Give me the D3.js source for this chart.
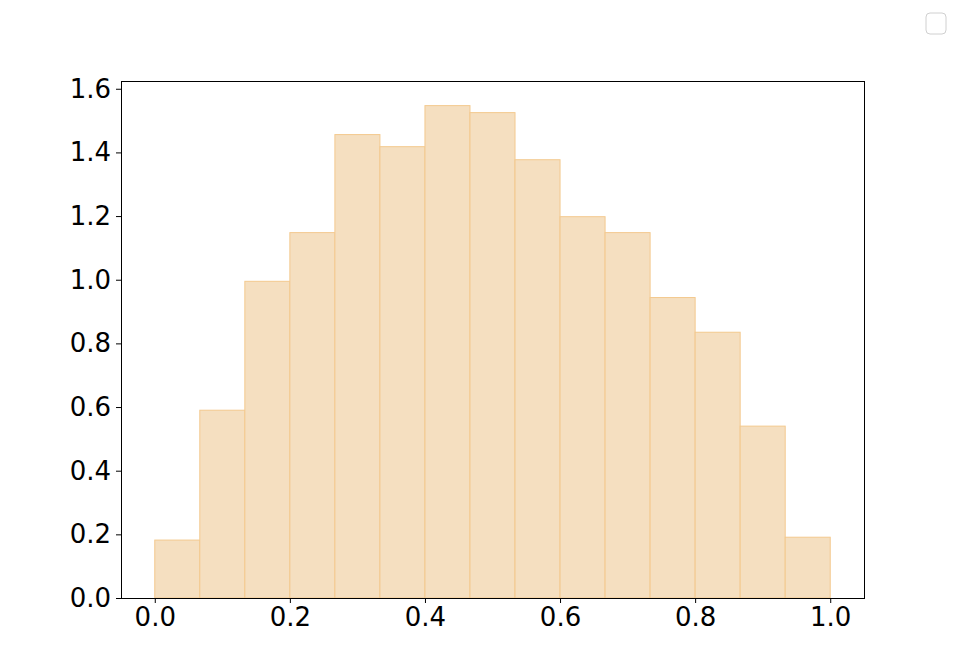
<!DOCTYPE html>
<html>
<head>
<meta charset="utf-8">
<script src="https://cdn.jsdelivr.net/npm/d3@7"></script>
<style>
  body { margin: 0; background: #fff; }
  text { font-family: "DejaVu Sans", sans-serif; }
</style>
</head>
<body>
<div id="chart"></div>
<script>
// histogram bins (edges) and density values
const binEdges = d3.range(16).map(i => i / 15);
const densities = [0.182, 0.590, 0.995, 1.148, 1.456, 1.418, 1.547, 1.525,
                   1.377, 1.198, 1.148, 0.944, 0.835, 0.540, 0.191];
const xTicks = [0.0, 0.2, 0.4, 0.6, 0.8, 1.0];
const yTicks = [0.0, 0.2, 0.4, 0.6, 0.8, 1.0, 1.2, 1.4, 1.6];

const w = 960, h = 672;
const padLeft = 121, padRight = 864, padTop = 81, padBottom = 598;

const svg = d3.select('#chart').append('svg')
    .attr('width', w).attr('height', h);

const x = d3.scaleLinear().domain([-0.05, 1.05]).range([padLeft, padRight]);
const yMax = d3.max(densities) * 1.05;
const y = d3.scaleLinear().domain([0, yMax]).range([padBottom, padTop]);

const bins = densities.map((d, i) => ({x0: binEdges[i], x1: binEdges[i + 1], v: d}));

svg.selectAll('rect.bar')
    .data(bins)
    .enter().append('rect')
    .attr('class', 'bar')
    .attr('x', d => x(d.x0))
    .attr('y', d => y(d.v))
    .attr('width', d => x(d.x1) - x(d.x0))
    .attr('height', d => y(0) - y(d.v))
    .attr('fill', '#f5dfc0')
    .attr('stroke', '#f3c98e')
    .attr('stroke-width', 1);

// axes
const xAxis = d3.axisBottom(x).tickValues(xTicks).tickFormat(d3.format('.1f'))
    .tickSize(5).tickPadding(5);
const yAxis = d3.axisLeft(y).tickValues(yTicks).tickFormat(d3.format('.1f'))
    .tickSize(5).tickPadding(5);

const gx = svg.append('g').attr('transform', 'translate(0,' + padBottom + ')').call(xAxis);
const gy = svg.append('g').attr('transform', 'translate(' + padLeft + ',0)').call(yAxis);
[gx, gy].forEach(g => {
    g.select('.domain').remove();
    g.attr('font-size', 26).attr('font-family', '"DejaVu Sans", sans-serif');
    g.selectAll('text').attr('fill', '#000');
    g.selectAll('line').attr('stroke', '#000');
});

// frame
svg.append('rect')
    .attr('x', padLeft + 0.5).attr('y', padTop + 0.5)
    .attr('width', padRight - padLeft).attr('height', padBottom - padTop)
    .attr('fill', 'none').attr('stroke', '#000').attr('stroke-width', 1);

// empty legend box
svg.append('rect')
    .attr('x', 926).attr('y', 13).attr('width', 20).attr('height', 21)
    .attr('rx', 4)
    .attr('fill', '#fff').attr('stroke', '#d0d0d0').attr('stroke-width', 1);
</script>
</body>
</html>
